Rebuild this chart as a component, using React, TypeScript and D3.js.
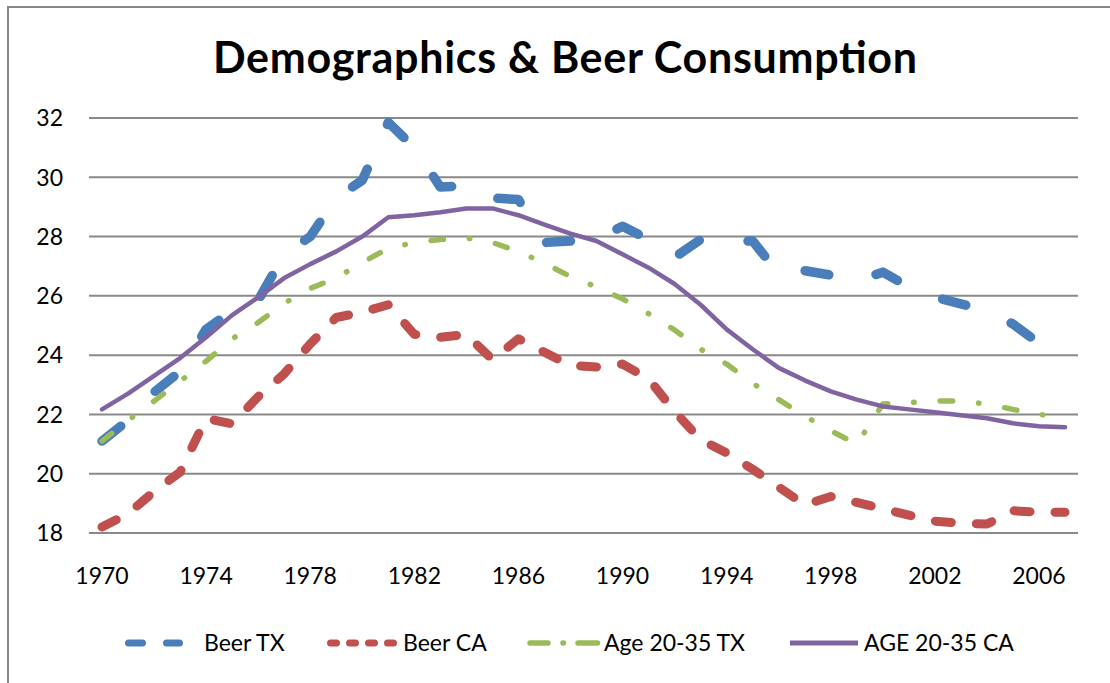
import * as d3 from 'd3';

const years = d3.range(1970, 2008);

// values, one per year 1970..2007
const beerTX = [21.1, 21.8, 22.75, 23.45, 24.87, 25.5, 25.85, 27.4, 28.0, 29.3, 29.9, 31.85, 31.0, 29.67, 29.72, 29.3, 29.25, 27.8, 27.85, 27.9, 28.35, 27.9, 27.3, 27.9, 27.85, 27.85, 26.75, 26.85, 26.7, 26.5, 26.8, 26.3, 25.96, 25.73, 25.5, 25.05, 24.4, null];
const beerCA = [18.2, 18.65, 19.4, 20.05, 21.87, 21.68, 22.6, 23.37, 24.38, 25.27, 25.45, 25.7, 24.7, 24.6, 24.7, 23.85, 24.55, 24.1, 23.65, 23.6, 23.7, 23.2, 22.1, 21.15, 20.7, 20.15, 19.55, 18.95, 19.23, 19.03, 18.82, 18.6, 18.4, 18.33, 18.3, 18.75, 18.7, 18.7];
const ageTX = [21.1, 21.8, 22.45, 23.12, 23.8, 24.55, 25.1, 25.75, 26.25, 26.6, 27.13, 27.6, 27.8, 27.9, 27.95, 27.8, 27.5, 27.1, 26.65, 26.3, 25.9, 25.4, 24.85, 24.2, 23.7, 23.05, 22.5, 21.95, 21.45, 21.0, 22.35, 22.4, 22.45, 22.45, 22.35, 22.17, 22.0, 21.9];
const ageCA = [22.17, 22.7, 23.3, 23.9, 24.6, 25.35, 25.95, 26.6, 27.07, 27.5, 28.0, 28.65, 28.72, 28.82, 28.95, 28.95, 28.72, 28.4, 28.1, 27.85, 27.4, 26.95, 26.4, 25.7, 24.87, 24.2, 23.57, 23.15, 22.78, 22.5, 22.27, 22.17, 22.07, 21.97, 21.87, 21.7, 21.6, 21.57];

const yTicks = [18, 20, 22, 24, 26, 28, 30, 32];
const xTickYears = [1970, 1974, 1978, 1982, 1986, 1990, 1994, 1998, 2002, 2006];

const series = [
  { name: 'Beer TX', values: beerTX, color: '#4a7ebb', width: 9.5, dash: '24 49', legendDash: '14 24', legendWidth: 7 },
  { name: 'Beer CA', values: beerCA, color: '#c0504d', width: 9, dash: '16 25', legendDash: '6 13', legendWidth: 7 },
  { name: 'Age 20-35 TX', values: ageTX, color: '#9bbb59', width: 5.5, dash: '12.5 26 0.5 26', legendDash: '18 15 0.5 14.5 20', legendWidth: 5.5 },
  { name: 'AGE 20-35 CA', values: ageCA, color: '#8064a2', width: 4.5, dash: null, legendDash: null, legendWidth: 5 },
];

// legend sample start/end and text x
const legendPos = [
  { x1: 128.5, x2: 179.5, tx: 204 },
  { x1: 330.5, x2: 394.5, tx: 403 },
  { x1: 530, x2: 597.5, tx: 604 },
  { x1: 790, x2: 858, tx: 864 },
];

const font = 'Lato, Calibri, "Open Sans", sans-serif';

export default function App() {
  const x = d3.scaleBand<number>().domain(years).range([89, 1078]).padding(0);
  const cx = (yr: number) => (x(yr) as number) + x.bandwidth() / 2;
  const y = d3.scaleLinear().domain([18, 32]).range([533, 118]);

  const line = d3
    .line<number | null>()
    .defined((d) => d != null)
    .x((_, i) => cx(years[i]))
    .y((d) => y(d as number));

  return (
    <svg
      width={1110}
      height={683}
      style={{ position: 'absolute', left: 0, top: 0, background: '#fff' }}
      fontFamily={font}
    >
      <rect x={0} y={0} width={1110} height={683} fill="#fff" />
      <rect x={8} y={7} width={1300} height={900} fill="none" stroke="#878787" strokeWidth={2} />

      <text x={213} y={73} fontSize={43} fontWeight={700} textLength={704} lengthAdjust="spacing" fill="#000">
        Demographics &amp; Beer Consumption
      </text>

      {yTicks.map((t) => (
        <g key={t}>
          <line x1={89} x2={1078} y1={y(t)} y2={y(t)} stroke="#898989" strokeWidth={2} />
          <text x={63} y={y(t)} dy="0.36em" textAnchor="end" fontSize={23} fill="#000">
            {t}
          </text>
        </g>
      ))}

      {xTickYears.map((yr) => (
        <text key={yr} x={cx(yr)} y={584} textAnchor="middle" fontSize={23} fill="#000">
          {yr}
        </text>
      ))}

      {series.map((s) => (
        <path
          key={s.name}
          d={line(s.values) || ''}
          fill="none"
          stroke={s.color}
          strokeWidth={s.width}
          strokeDasharray={s.dash || undefined}
          strokeLinecap="round"
          strokeLinejoin="round"
        />
      ))}

      {series.map((s, i) => (
        <g key={'lg' + s.name}>
          <line
            x1={legendPos[i].x1}
            x2={legendPos[i].x2}
            y1={643}
            y2={643}
            stroke={s.color}
            strokeWidth={s.legendWidth}
            strokeDasharray={s.legendDash || undefined}
            strokeLinecap={s.legendDash ? 'round' : 'butt'}
          />
          <text x={legendPos[i].tx} y={643} dy="0.36em" fontSize={23} fill="#000">
            {s.name}
          </text>
        </g>
      ))}
    </svg>
  );
}
